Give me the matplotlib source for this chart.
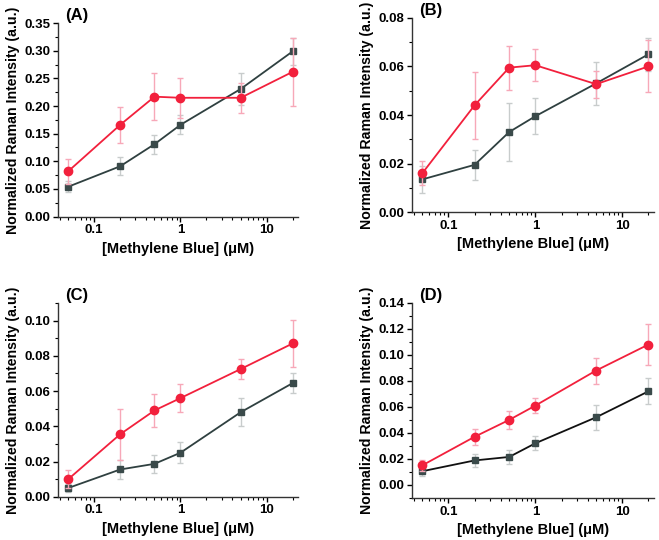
import matplotlib.pyplot as plt
from matplotlib.ticker import MultipleLocator, LogLocator, NullFormatter, FixedLocator, FixedFormatter

plt.rcParams['font.family'] = ['Liberation Sans', 'DejaVu Sans']
plt.rcParams['font.weight'] = 'bold'

conc = [0.05, 0.2, 0.5, 1, 5, 20]

# panel A
a_red = [0.082, 0.166, 0.217, 0.215, 0.215, 0.262]
a_red_err = [0.023, 0.033, 0.043, 0.036, 0.027, 0.061]
a_gray = [0.054, 0.091, 0.131, 0.166, 0.231, 0.299]
a_gray_err = [0.010, 0.016, 0.017, 0.017, 0.029, 0.024]

# panel B
b_red = [0.016, 0.044, 0.0595, 0.0605, 0.0527, 0.060]
b_red_err = [0.005, 0.0137, 0.009, 0.0065, 0.0055, 0.0107]
b_gray = [0.0135, 0.0195, 0.033, 0.0395, 0.053, 0.065]
b_gray_err = [0.0055, 0.0062, 0.012, 0.0075, 0.009, 0.0068]

# panel C
c_red = [0.010, 0.0355, 0.049, 0.056, 0.0725, 0.087]
c_red_err = [0.005, 0.0145, 0.0093, 0.008, 0.0057, 0.0135]
c_gray = [0.005, 0.0155, 0.0187, 0.025, 0.048, 0.0645]
c_gray_err = [0.0025, 0.0053, 0.0053, 0.006, 0.008, 0.0057]

# panel D
d_red = [0.015, 0.037, 0.050, 0.061, 0.088, 0.108]
d_red_err = [0.004, 0.006, 0.007, 0.0055, 0.010, 0.0155]
d_gray = [0.0105, 0.0188, 0.0215, 0.032, 0.052, 0.072]
d_gray_err = [0.0035, 0.005, 0.0055, 0.0055, 0.0095, 0.010]

panels = [
    ('(A)', a_red, a_red_err, a_gray, a_gray_err, (0, 0.35), 0.05, '#2f4040'),
    ('(B)', b_red, b_red_err, b_gray, b_gray_err, (0, 0.08), 0.02, '#2f4040'),
    ('(C)', c_red, c_red_err, c_gray, c_gray_err, (0, 0.11), 0.02, '#2f4040'),
    ('(D)', d_red, d_red_err, d_gray, d_gray_err, (-0.01, 0.14), 0.02, '#111111'),
]

rects = [
    [0.088, 0.599, 0.364, 0.358],
    [0.625, 0.607, 0.367, 0.360],
    [0.088, 0.080, 0.364, 0.359],
    [0.625, 0.078, 0.367, 0.361],
]

red = '#f2203c'
gray = '#3a4a4a'

fig = plt.figure(figsize=(6.59, 5.4), dpi=100)

for rect, (lab, yr, er, yg, eg, ylim, step, gline) in zip(rects, panels):
    ax = fig.add_axes(rect)
    ax.set_xscale('log')
    ax.errorbar(conc, yg, yerr=eg, color=gline, lw=1.3, marker='s', ms=5,
                mfc=gray, mec=gray, ecolor='#c8cccc', elinewidth=1, capsize=2.5, zorder=2)
    ax.errorbar(conc, yr, yerr=er, color=red, lw=1.3, marker='o', ms=6,
                mfc=red, mec=red, ecolor='#f7a8b8', elinewidth=1, capsize=2.5, zorder=3)
    ax.set_xlim(0.038, 23)
    ax.set_ylim(*ylim)
    ax.yaxis.set_major_locator(MultipleLocator(step))
    ax.yaxis.set_minor_locator(MultipleLocator(step / 2))
    ax.yaxis.set_major_formatter(plt.FormatStrFormatter('%.2f'))
    ax.xaxis.set_major_locator(FixedLocator([0.1, 1, 10]))
    ax.xaxis.set_major_formatter(FixedFormatter(['0.1', '1', '10']))
    ax.xaxis.set_minor_locator(LogLocator(base=10, subs=range(2, 10)))
    ax.xaxis.set_minor_formatter(NullFormatter())
    for s in ['top', 'right']:
        ax.spines[s].set_visible(False)
    for s in ['left', 'bottom']:
        ax.spines[s].set_color('#333333')
        ax.spines[s].set_linewidth(1.0)
    ax.tick_params(which='major', direction='out', length=3.5, width=1, labelsize=9.5, pad=2)
    ax.tick_params(which='minor', direction='out', length=2, width=0.8)
    for t in ax.get_xticklabels() + ax.get_yticklabels():
        t.set_fontweight('bold')
    ax.set_xlabel('[Methylene Blue] (\u03bcM)', fontsize=10.5, fontweight='bold', labelpad=4)
    ax.set_ylabel('Normalized Raman Intensity (a.u.)', fontsize=10.2, fontweight='bold', labelpad=3)
    ax.text(0.03, 1.04, lab, transform=ax.transAxes, fontsize=12, fontweight='bold',
            ha='left', va='center')

fig.savefig('out.png', dpi=100)
